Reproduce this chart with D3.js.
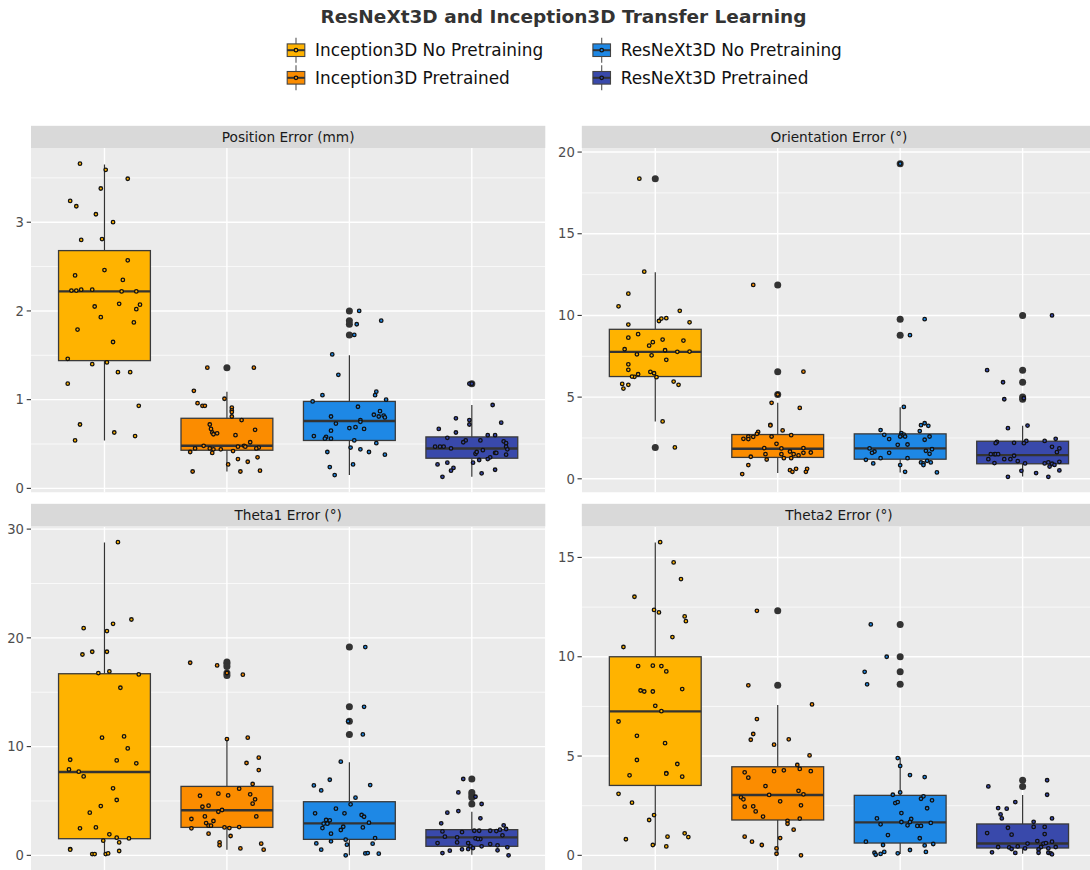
<!DOCTYPE html>
<html><head><meta charset="utf-8">
<script src="https://cdn.jsdelivr.net/npm/d3@7"></script>
<style>body{margin:0;background:#fff}svg{display:block}</style>
</head><body>
<script>
// ---------------- DATA ----------------
const categories = ["Inception3D No Pretraining","Inception3D Pretrained","ResNeXt3D No Pretraining","ResNeXt3D Pretrained"];
const colors = ["#FFB300","#FB8C00","#1E88E5","#3949AB"];
const facetTitles = ["Position Error (mm)","Orientation Error (°)","Theta1 Error (°)","Theta2 Error (°)"];
const chartTitle = "ResNeXt3D and Inception3D Transfer Learning";

const positionTicks = [0,1,2,3];
const orientationTicks = [0,5,10,15,20];
const theta1Ticks = [0,10,20,30];
const theta2Ticks = [0,5,10,15];

// box stats per category: [lower whisker, q1, median, q3, upper whisker]
const positionBoxes = [[0.54,1.44,2.22,2.68,3.65],[0.19,0.43,0.48,0.79,1.09],[0.15,0.54,0.76,0.98,1.50],[0.13,0.34,0.45,0.58,0.94]];
const orientationBoxes = [[3.51,6.26,7.77,9.15,12.64],[0.35,1.31,1.84,2.71,4.65],[0.39,1.20,1.86,2.75,4.38],[0.14,0.92,1.45,2.30,3.24]];
const theta1Boxes = [[0.10,1.53,7.66,16.70,28.77],[0.52,2.57,4.14,6.34,10.69],[0.00,1.47,2.94,4.93,8.55],[0.06,0.83,1.65,2.36,4.01]];
const theta2Boxes = [[0.50,3.52,7.25,10.00,15.75],[0.03,1.78,3.04,4.46,7.57],[0.07,0.62,1.66,3.02,4.93],[0.08,0.37,0.60,1.58,3.04]];

// outliers per category
const positionOutliers = [[],[1.36],[2.00,1.89,1.85,1.73],[1.18]];
const orientationOutliers = [[18.37,1.92],[11.87,6.56,5.16],[19.29,9.77,8.79],[9.99,6.65,5.91,5.00,4.87]];
const theta1Outliers = [[],[17.77,17.62,17.37,16.76,16.54],[19.15,13.66,12.32,11.12],[7.02,5.79,5.55,5.33,4.72]];
const theta2Outliers = [[],[12.31,8.56],[11.63,10.00,9.24,8.61],[3.78,3.47]];

// jittered observations per category: [value, horizontal jitter (category units)]
const positionPoints = [
 [[3.66,-0.20],[3.59,0.01],[3.49,0.19],[3.38,-0.03],[3.24,-0.28],[3.18,-0.23],[3.09,-0.07],[3.00,0.07],[2.80,-0.19],[2.81,-0.02],[2.46,0.00],[2.57,0.19],[2.40,-0.24],[2.35,0.15],[2.23,-0.27],[2.23,-0.23],[2.24,-0.19],[2.24,-0.10],[2.22,0.14],[2.22,0.26],[2.08,0.12],[2.07,0.29],[2.05,-0.08],[2.02,0.26],[1.93,-0.03],[1.87,0.24],[1.79,-0.22],[1.65,0.07],[1.46,-0.30],[1.40,-0.10],[1.42,0.02],[1.31,0.11],[1.31,0.21],[1.18,-0.30],[0.93,0.28],[0.72,-0.20],[0.54,-0.24],[0.63,0.08],[0.59,0.25]],
 [[1.36,-0.16],[1.36,0.22],[1.10,-0.27],[1.01,-0.02],[0.96,-0.24],[0.93,-0.20],[0.93,-0.18],[0.91,0.04],[0.88,0.04],[0.86,0.04],[0.81,0.04],[0.77,0.12],[0.72,-0.14],[0.67,-0.13],[0.63,-0.12],[0.61,-0.11],[0.62,-0.08],[0.60,0.07],[0.66,0.23],[0.52,0.19],[0.45,-0.26],[0.48,-0.19],[0.45,-0.14],[0.44,-0.11],[0.44,-0.05],[0.47,0.09],[0.48,0.14],[0.47,0.15],[0.46,0.26],[0.45,0.24],[0.42,0.05],[0.41,-0.30],[0.40,-0.12],[0.35,0.25],[0.33,0.09],[0.30,0.17],[0.27,0.01],[0.19,-0.28],[0.19,0.11],[0.20,0.27]],
 [[2.00,0.08],[1.89,0.26],[1.85,0.06],[1.73,0.04],[1.51,-0.14],[1.28,-0.09],[1.05,-0.22],[1.09,0.22],[1.05,0.21],[1.00,0.30],[0.98,-0.30],[0.92,0.07],[0.87,0.25],[0.83,0.20],[0.81,0.24],[0.82,0.28],[0.80,0.29],[0.81,-0.15],[0.77,0.09],[0.75,0.09],[0.73,-0.11],[0.69,0.05],[0.68,0.00],[0.67,0.12],[0.65,-0.15],[0.59,-0.29],[0.58,-0.19],[0.56,-0.20],[0.56,-0.15],[0.54,0.04],[0.51,0.22],[0.46,0.01],[0.44,0.09],[0.41,0.16],[0.41,-0.18],[0.38,0.29],[0.27,0.03],[0.24,-0.16],[0.15,-0.12]],
 [[1.18,-0.02],[1.18,0.00],[0.94,0.17],[0.74,0.24],[0.79,-0.13],[0.77,-0.02],[0.72,-0.02],[0.67,-0.27],[0.63,-0.13],[0.60,0.13],[0.60,0.19],[0.57,-0.20],[0.54,-0.05],[0.52,-0.07],[0.54,0.07],[0.53,0.26],[0.51,0.28],[0.47,-0.30],[0.47,-0.26],[0.47,-0.23],[0.45,-0.17],[0.47,0.28],[0.44,0.29],[0.43,0.09],[0.39,0.03],[0.41,0.04],[0.40,0.19],[0.40,0.20],[0.38,0.28],[0.35,0.15],[0.33,0.13],[0.32,0.06],[0.29,0.01],[0.27,-0.28],[0.29,-0.20],[0.23,-0.15],[0.20,-0.17],[0.21,0.19],[0.17,0.08],[0.13,-0.24]]
];
const orientationPoints = [
 [[18.37,-0.13],[12.68,-0.09],[11.33,-0.22],[10.56,-0.30],[10.28,0.20],[9.66,0.03],[9.81,0.05],[9.83,0.09],[9.44,-0.22],[9.58,0.28],[8.85,-0.14],[8.64,-0.22],[8.15,-0.05],[8.36,-0.02],[8.52,0.06],[8.46,0.23],[7.93,-0.25],[7.87,0.08],[7.77,0.18],[7.79,0.28],[7.62,-0.15],[7.56,-0.03],[7.28,0.09],[7.01,-0.22],[6.67,-0.22],[6.54,-0.04],[6.46,-0.01],[6.40,-0.14],[6.24,-0.17],[6.26,-0.19],[6.22,0.01],[5.95,0.15],[5.81,-0.27],[5.75,-0.22],[5.75,0.19],[5.52,-0.26],[3.51,0.06],[1.92,0.16]],
 [[11.87,-0.20],[6.56,0.21],[5.16,0.00],[4.65,-0.05],[4.34,0.18],[3.30,-0.06],[3.27,-0.06],[2.96,0.04],[2.87,-0.16],[2.75,-0.17],[2.67,0.11],[2.59,-0.24],[2.57,-0.20],[2.59,-0.05],[2.45,-0.28],[2.43,-0.24],[2.14,-0.01],[1.88,-0.11],[1.86,0.03],[1.88,0.21],[1.35,-0.22],[1.51,-0.10],[1.51,0.03],[1.26,0.05],[1.67,0.10],[1.51,0.13],[1.43,0.17],[1.59,0.21],[1.61,0.27],[1.18,-0.09],[1.26,0.11],[0.84,-0.24],[0.29,-0.29],[0.53,0.10],[0.43,0.12],[0.61,0.15],[0.43,0.23],[0.61,0.24]],
 [[19.29,0.00],[9.77,0.20],[8.79,0.08],[4.40,0.03],[2.98,-0.16],[3.40,0.20],[3.28,0.17],[3.24,0.23],[2.92,0.16],[2.69,-0.13],[2.79,0.01],[2.71,0.03],[2.65,0.01],[2.59,0.04],[2.59,0.00],[2.59,0.24],[2.43,-0.09],[2.39,0.20],[2.08,-0.02],[2.10,0.06],[1.86,-0.25],[1.81,0.26],[1.67,-0.21],[1.59,-0.23],[1.59,-0.09],[1.71,0.21],[1.53,0.24],[1.26,0.06],[1.26,-0.16],[1.16,-0.28],[1.10,0.22],[1.00,0.25],[1.00,0.17],[0.94,0.19],[0.84,0.19],[0.94,-0.22],[0.84,0.00],[0.43,0.04],[0.39,0.30]],
 [[10.00,0.24],[6.65,-0.29],[5.91,-0.16],[4.87,-0.15],[4.93,0.01],[3.26,0.04],[3.10,-0.12],[2.45,0.27],[2.32,0.18],[2.32,0.03],[2.26,-0.21],[2.18,-0.22],[2.20,-0.07],[2.18,0.01],[1.96,0.24],[1.86,0.30],[1.63,0.28],[1.51,-0.26],[1.51,-0.23],[1.51,-0.22],[1.51,-0.20],[1.41,-0.07],[1.20,-0.28],[1.20,-0.15],[1.20,-0.10],[1.08,-0.04],[0.96,-0.23],[0.94,0.02],[0.94,0.18],[1.00,0.21],[0.92,0.24],[0.85,0.26],[1.04,0.30],[0.75,0.22],[0.49,-0.01],[0.35,0.11],[0.51,0.30],[0.12,-0.12],[0.12,0.21]]
];
const theta1Points = [
 [[28.80,0.11],[21.69,0.22],[21.29,0.07],[20.89,-0.17],[20.62,0.02],[18.47,-0.18],[18.72,-0.10],[18.72,0.02],[16.76,-0.05],[16.91,0.04],[16.64,0.28],[15.41,0.13],[10.82,-0.02],[10.94,0.16],[9.83,0.19],[8.79,-0.28],[8.73,0.10],[8.46,0.26],[7.90,-0.29],[7.69,-0.21],[7.26,-0.17],[6.16,0.07],[5.09,0.10],[4.53,-0.03],[3.92,-0.12],[2.48,-0.20],[2.57,-0.07],[1.93,0.04],[1.62,0.10],[1.56,0.20],[1.35,-0.01],[1.19,0.12],[0.58,-0.28],[0.52,-0.28],[0.40,0.12],[0.12,-0.10],[0.12,-0.08],[0.12,0.01],[0.18,0.03]],
 [[17.71,-0.30],[17.46,-0.08],[16.77,0.00],[16.61,0.13],[10.69,0.00],[10.82,0.17],[8.98,0.26],[8.49,0.16],[7.84,0.26],[6.56,0.21],[6.13,0.10],[5.48,-0.22],[5.67,-0.07],[5.51,0.01],[5.61,0.19],[5.15,0.23],[4.75,0.21],[4.47,-0.20],[4.57,-0.15],[4.17,-0.04],[4.01,-0.07],[3.58,-0.18],[3.58,0.24],[3.34,-0.29],[3.16,-0.11],[2.97,-0.17],[2.73,-0.15],[2.73,-0.13],[2.60,0.10],[2.57,-0.02],[2.51,0.02],[2.48,-0.29],[1.99,-0.15],[1.78,0.03],[1.19,-0.06],[0.92,-0.06],[1.07,0.28],[0.64,0.11],[0.52,0.30]],
 [[19.15,0.13],[13.66,0.12],[12.32,-0.01],[11.12,0.11],[8.61,-0.07],[6.43,-0.29],[6.46,0.17],[6.95,-0.16],[5.97,-0.23],[5.30,0.05],[4.69,0.01],[4.29,-0.11],[3.86,-0.28],[3.86,-0.04],[3.71,0.10],[3.55,0.12],[3.25,-0.19],[3.22,-0.16],[2.97,-0.18],[2.91,-0.21],[2.91,-0.18],[3.00,0.16],[2.63,-0.05],[2.51,-0.22],[2.57,0.11],[2.33,-0.07],[1.99,-0.15],[1.59,0.21],[1.44,-0.03],[1.29,-0.15],[1.10,-0.27],[1.07,0.19],[0.98,-0.02],[0.52,-0.23],[0.18,0.13],[0.21,0.15],[0.15,0.24],[0.00,-0.03]],
 [[7.02,-0.07],[5.79,-0.11],[5.39,0.03],[4.72,0.08],[3.92,-0.20],[4.07,-0.11],[3.40,0.07],[2.94,-0.25],[2.76,0.26],[2.42,0.28],[2.20,-0.24],[2.14,-0.08],[2.26,0.02],[2.26,0.06],[2.26,0.15],[2.23,0.20],[2.36,0.23],[1.72,-0.22],[1.65,-0.12],[1.56,0.03],[1.50,0.07],[1.84,0.25],[1.50,0.05],[1.13,-0.28],[1.19,-0.12],[1.04,0.15],[1.13,-0.03],[0.83,0.08],[0.92,0.21],[0.74,0.29],[0.83,-0.01],[0.43,-0.18],[0.55,-0.08],[0.58,-0.03],[0.67,0.01],[0.46,0.21],[0.21,-0.24],[0.00,0.30]]
];
const theta2Points = [
 [[15.77,0.04],[14.75,0.15],[13.91,0.21],[13.02,-0.17],[12.36,-0.01],[12.23,0.03],[12.03,0.24],[11.79,0.25],[10.99,0.14],[10.49,-0.26],[9.53,-0.14],[9.55,-0.02],[9.53,0.05],[9.26,0.09],[8.30,-0.12],[8.25,-0.09],[8.25,-0.02],[8.37,0.22],[7.53,0.00],[7.26,0.05],[6.74,-0.30],[6.02,-0.15],[5.65,0.08],[4.80,-0.15],[4.60,0.18],[4.03,-0.21],[4.14,0.09],[4.11,0.09],[3.96,0.22],[3.10,-0.30],[2.65,-0.19],[2.03,-0.01],[1.78,-0.05],[0.81,-0.24],[1.11,0.24],[0.92,0.27],[0.94,0.10],[0.52,-0.02],[0.45,0.09]],
 [[12.31,-0.17],[8.56,-0.24],[7.60,0.28],[6.86,-0.17],[6.11,-0.20],[5.82,-0.22],[5.84,0.09],[5.57,-0.03],[5.03,0.26],[4.55,0.16],[4.35,0.18],[4.18,-0.27],[4.24,-0.03],[4.28,0.05],[4.24,0.27],[3.91,-0.24],[3.49,-0.10],[3.25,0.17],[3.04,-0.07],[3.07,0.21],[2.92,-0.30],[2.82,-0.28],[2.72,0.02],[2.45,-0.27],[2.47,-0.20],[2.52,0.19],[2.21,-0.18],[1.95,-0.12],[1.85,0.18],[1.74,0.08],[1.59,0.08],[1.29,0.13],[0.94,-0.27],[0.87,0.02],[0.69,-0.21],[0.52,-0.13],[0.35,-0.01],[0.08,-0.01],[0.00,0.19]],
 [[11.63,-0.24],[10.00,-0.11],[9.24,-0.29],[8.61,-0.27],[4.90,-0.02],[4.50,0.00],[4.04,0.08],[3.94,0.20],[3.17,0.00],[3.05,-0.06],[2.97,0.19],[2.85,0.17],[2.77,0.26],[2.63,-0.04],[2.68,-0.02],[2.37,0.22],[2.13,0.01],[1.86,-0.19],[1.83,0.09],[1.63,0.25],[1.68,0.01],[1.68,0.08],[1.56,-0.16],[1.51,0.06],[1.48,0.14],[1.48,0.17],[1.02,-0.10],[0.86,0.16],[0.69,-0.28],[0.52,-0.14],[0.50,0.20],[0.57,0.27],[0.27,0.08],[0.13,-0.21],[0.17,-0.13],[0.10,-0.02],[0.17,0.21],[0.07,-0.16],[0.03,-0.20]],
 [[3.78,0.20],[3.47,-0.28],[3.05,0.20],[2.68,-0.06],[2.38,-0.20],[2.35,-0.13],[2.06,-0.18],[1.86,-0.17],[1.86,0.24],[1.69,0.09],[1.39,-0.12],[1.43,0.09],[1.43,0.18],[1.12,-0.29],[1.04,-0.09],[1.07,0.18],[0.72,0.12],[0.59,0.04],[0.69,0.24],[0.59,0.17],[0.62,0.19],[0.42,-0.20],[0.40,-0.11],[0.45,-0.04],[0.42,0.15],[0.42,0.27],[0.32,-0.09],[0.35,0.02],[0.30,0.13],[0.35,0.21],[0.15,-0.25],[0.12,-0.06],[0.13,0.21],[0.13,0.13],[0.10,0.23],[0.05,0.24]]
];

// ---------------- LAYOUT ----------------
const W = 1090, H = 870;
const FONT = "'DejaVu Sans', 'Liberation Sans', sans-serif";
const panelW = 514.3;
const colX = [31, 581.8];
const rows = [{stripTop:125.8, top:148, bottom:492.5},{stripTop:503.8, top:526.5, bottom:871}];

const facets = [
  {title:facetTitles[0], ticks:positionTicks, boxes:positionBoxes, outliers:positionOutliers, points:positionPoints, col:0, row:0},
  {title:facetTitles[1], ticks:orientationTicks, boxes:orientationBoxes, outliers:orientationOutliers, points:orientationPoints, col:1, row:0},
  {title:facetTitles[2], ticks:theta1Ticks, boxes:theta1Boxes, outliers:theta1Outliers, points:theta1Points, col:0, row:1},
  {title:facetTitles[3], ticks:theta2Ticks, boxes:theta2Boxes, outliers:theta2Outliers, points:theta2Points, col:1, row:1}
];

const svg = d3.select("body").append("svg").attr("width", W).attr("height", H)
  .style("font-family", FONT);
svg.append("rect").attr("width", W).attr("height", H).attr("fill", "#fff");
const defs = svg.append("defs");

// title
svg.append("text").attr("x", 563.5).attr("y", 22.5).attr("text-anchor", "middle")
  .attr("font-size", 18.5).attr("font-weight", "bold").attr("fill", "#333")
  .text(chartTitle);

// legend
const legendPos = [[296, 50.2],[296, 77.8],[601.7, 50.2],[601.7, 77.8]];
categories.forEach((c, i) => {
  const [cx, cy] = legendPos[i];
  const g = svg.append("g");
  g.append("line").attr("x1", cx).attr("x2", cx).attr("y1", cy - 12.5).attr("y2", cy + 12.5)
    .attr("stroke", "#555").attr("stroke-width", 1.1);
  g.append("rect").attr("x", cx - 8.8).attr("y", cy - 6.3).attr("width", 17.6).attr("height", 12.6)
    .attr("fill", colors[i]).attr("stroke", "#444").attr("stroke-width", 1.1);
  g.append("line").attr("x1", cx - 8.8).attr("x2", cx + 8.8).attr("y1", cy).attr("y2", cy)
    .attr("stroke", "#333").attr("stroke-width", 2);
  g.append("circle").attr("cx", cx).attr("cy", cy).attr("r", 1.75)
    .attr("fill", colors[i]).attr("stroke", "#111").attr("stroke-width", 1.3);
  g.append("text").attr("x", cx + 19).attr("y", cy + 5.8).attr("font-size", 16.9).attr("fill", "#111").text(c);
});

// facets
facets.forEach((f, fi) => {
  const x0 = colX[f.col], x1 = x0 + panelW;
  const r = rows[f.row];
  const allVals = [];
  f.points.forEach(g => g.forEach(p => allVals.push(p[0])));
  f.boxes.forEach(b => b.forEach(v => allVals.push(v)));
  f.outliers.forEach(o => o.forEach(v => allVals.push(v)));
  const [mn, mx] = d3.extent(allVals);
  const pad = (mx - mn) * 0.05;
  const y = d3.scaleLinear().domain([mn - pad, mx + pad]).range([r.bottom, r.top]);
  const x = d3.scalePoint().domain(categories).range([x0, x1]).padding(0.6);
  const step = x.step();
  const boxW = step * 0.75;

  const clipId = "clip" + fi;
  defs.append("clipPath").attr("id", clipId).append("rect")
    .attr("x", x0).attr("y", r.top).attr("width", panelW).attr("height", r.bottom - r.top);

  const pg = svg.append("g").attr("clip-path", `url(#${clipId})`);
  pg.append("rect").attr("x", x0).attr("y", r.top).attr("width", panelW).attr("height", r.bottom - r.top).attr("fill", "#EBEBEB");

  const tstep = f.ticks[1] - f.ticks[0];
  const minor = [];
  for (let t = f.ticks[0] - tstep / 2; t <= y.domain()[1]; t += tstep) {
    if (t >= y.domain()[0]) minor.push(t);
  }
  pg.selectAll(".minor").data(minor).join("line")
    .attr("x1", x0).attr("x2", x1).attr("y1", d => y(d)).attr("y2", d => y(d))
    .attr("stroke", "#fff").attr("stroke-width", 0.7);
  pg.selectAll(".major").data(f.ticks).join("line")
    .attr("x1", x0).attr("x2", x1).attr("y1", d => y(d)).attr("y2", d => y(d))
    .attr("stroke", "#fff").attr("stroke-width", 1.4);
  pg.selectAll(".vgrid").data(categories).join("line")
    .attr("x1", d => x(d)).attr("x2", d => x(d)).attr("y1", r.top).attr("y2", r.bottom)
    .attr("stroke", "#fff").attr("stroke-width", 1.4);

  // boxplots
  categories.forEach((c, ci) => {
    const [lo, q1, med, q3, hi] = f.boxes[ci];
    const cx = x(c);
    const bg = pg.append("g");
    bg.append("line").attr("x1", cx).attr("x2", cx).attr("y1", y(hi)).attr("y2", y(q3))
      .attr("stroke", "#333").attr("stroke-width", 1.2);
    bg.append("line").attr("x1", cx).attr("x2", cx).attr("y1", y(q1)).attr("y2", y(lo))
      .attr("stroke", "#333").attr("stroke-width", 1.2);
    bg.append("rect").attr("x", cx - boxW / 2).attr("y", y(q3)).attr("width", boxW).attr("height", y(q1) - y(q3))
      .attr("fill", colors[ci]).attr("stroke", "#3a3a3a").attr("stroke-width", 1.3);
    bg.append("line").attr("x1", cx - boxW / 2).attr("x2", cx + boxW / 2).attr("y1", y(med)).attr("y2", y(med))
      .attr("stroke", "#333").attr("stroke-width", 2.4);
    bg.selectAll("circle").data(f.outliers[ci]).join("circle")
      .attr("cx", cx).attr("cy", d => y(d)).attr("r", 3.5).attr("fill", "#333");
  });
  // jitter points
  categories.forEach((c, ci) => {
    pg.append("g").selectAll("circle").data(f.points[ci]).join("circle")
      .attr("cx", d => x(c) + d[1] * step).attr("cy", d => y(d[0])).attr("r", 1.75)
      .attr("fill", colors[ci]).attr("stroke", "#111").attr("stroke-width", 1.3);
  });

  // strip
  svg.append("rect").attr("x", x0).attr("y", r.stripTop).attr("width", panelW).attr("height", r.top - r.stripTop).attr("fill", "#D9D9D9");
  svg.append("text").attr("x", (x0 + x1) / 2).attr("y", (r.stripTop + r.top) / 2 + 4.8)
    .attr("text-anchor", "middle").attr("font-size", 13.7).attr("fill", "#1A1A1A").text(f.title);

  // y axis
  const ax = svg.append("g");
  ax.selectAll("line").data(f.ticks).join("line")
    .attr("x1", x0 - 4.3).attr("x2", x0).attr("y1", d => y(d)).attr("y2", d => y(d))
    .attr("stroke", "#333").attr("stroke-width", 1.1);
  ax.selectAll("text").data(f.ticks).join("text")
    .attr("x", x0 - 7).attr("y", d => y(d) + 4.7).attr("text-anchor", "end")
    .attr("font-size", 13.2).attr("fill", "#4D4D4D").text(d => d);
});
</script>
</body></html>
